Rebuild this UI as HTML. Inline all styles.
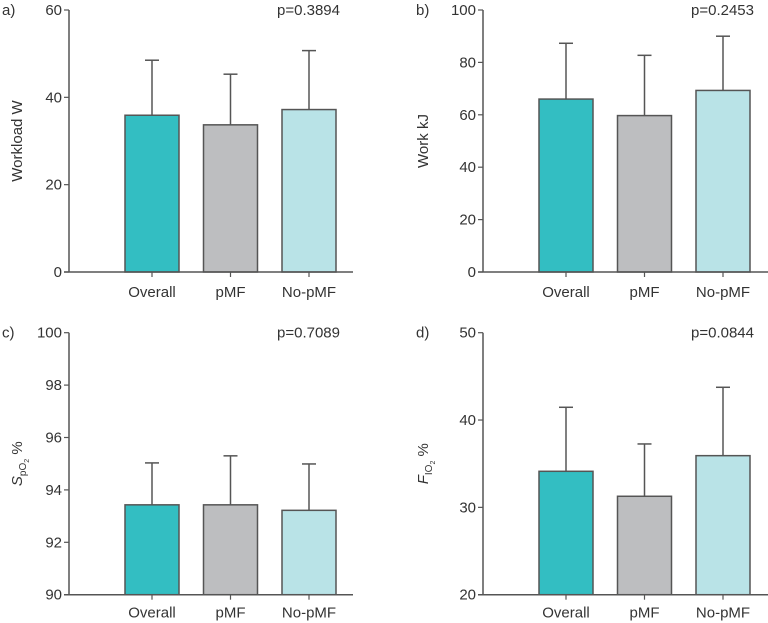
<!DOCTYPE html>
<html><head><meta charset="utf-8"><style>
html,body{margin:0;padding:0;background:#fff;}
svg{display:block;font-family:"Liberation Sans",sans-serif;}
</style></head><body>
<svg id="chart" width="768" height="623"></svg>
<script>
const categories = ["Overall","pMF","No-pMF"];
const workloadMeans = [35.9, 33.7, 37.2];
const workloadErr = [48.5, 45.3, 50.7];
const workMeans = [66.0, 59.7, 69.3];
const workErr = [87.3, 82.7, 90.0];
const spo2Means = [93.43, 93.43, 93.22];
const spo2Err = [95.03, 95.3, 94.99];
const fio2Means = [34.13, 31.27, 35.92];
const fio2Err = [41.46, 37.26, 43.75];
const workloadTicks = [0,20,40,60];
const workTicks = [0,20,40,60,80,100];
const spo2Ticks = [90,92,94,96,98,100];
const fio2Ticks = [20,30,40,50];
const pValues = ["p=0.3894","p=0.2453","p=0.7089","p=0.0844"];
const colors = ["#33bec2","#bdbec0","#b9e3e7"];

const NS="http://www.w3.org/2000/svg";
const svg=document.getElementById('chart');
function mk(tag,attrs,parent){const e=document.createElementNS(NS,tag);for(const k in attrs)e.setAttribute(k,attrs[k]);(parent||svg).appendChild(e);return e;}

const panels=[
 {id:'a',ax:69,top:10,bot:272,ticks:workloadTicks,means:workloadMeans,errs:workloadErr,p:pValues[0],title:'Workload W',end:353,tx:17,ly:25},
 {id:'b',ax:483,top:10,bot:272,ticks:workTicks,means:workMeans,errs:workErr,p:pValues[1],title:'Work kJ',end:768,tx:423,ly:25},
 {id:'c',ax:69,top:332.7,bot:594.7,ticks:spo2Ticks,means:spo2Means,errs:spo2Err,p:pValues[2],title:'spo2',end:353,tx:17,ly:23},
 {id:'d',ax:483,top:332.7,bot:594.7,ticks:fio2Ticks,means:fio2Means,errs:fio2Err,p:pValues[3],title:'fio2',end:768,tx:423,ly:23}
];
const stroke="#555";
panels.forEach(P=>{
  const g=mk('g',{});
  
  
  const lo=P.ticks[0],hi=P.ticks[P.ticks.length-1];
  const y=v=>P.bot-(v-lo)/(hi-lo)*(P.bot-P.top);
  const x=i=>P.ax+83+i*78.5;
  categories.forEach((c,i)=>{
    const cx=x(i);
    const el=mk('line',{x1:cx,x2:cx,y1:y(P.means[i]),y2:y(P.errs[i]),stroke:stroke,'stroke-width':1.5},g);
    
    
    const cap=mk('line',{x1:cx-7,x2:cx+7,y1:y(P.errs[i]),y2:y(P.errs[i]),stroke:stroke,'stroke-width':1.5},g);
    
    
    const r=mk('rect',{x:cx-27,y:y(P.means[i]),width:54,height:P.bot-y(P.means[i]),fill:colors[i],stroke:stroke,'stroke-width':1.5},g);
    
    
    mk('line',{x1:cx,x2:cx,y1:P.bot,y2:P.bot+5,stroke:stroke,'stroke-width':1.2},g);
    const t=mk('text',{x:cx,y:P.bot+P.ly,'text-anchor':'middle','font-size':15,fill:'#333'},g);
    t.textContent=c;
    
    
  });
  const ya=mk('line',{x1:P.ax,x2:P.ax,y1:P.top,y2:P.bot,stroke:stroke,'stroke-width':1.5},g);
  
  
  const xa=mk('line',{x1:P.ax-5,x2:P.end,y1:P.bot,y2:P.bot,stroke:stroke,'stroke-width':1.5},g);
  
  
  P.ticks.forEach(v=>{
    mk('line',{x1:P.ax-5,x2:P.ax,y1:y(v),y2:y(v),stroke:stroke,'stroke-width':1.2},g);
    const t=mk('text',{x:P.ax-7,y:y(v)+5,'text-anchor':'end','font-size':15,fill:'#333'},g);
    t.textContent=v;
    
    
  });
  const pl=mk('text',{x:P.ax+208,y:P.top+5,'font-size':15,fill:'#333'},g);
  pl.textContent=P.p;
  
  
  const lab=mk('text',{x:P.ax-67,y:P.top+5,'font-size':15,fill:'#333'},g);
  lab.textContent=P.id+')';
  
  
  const cy=(P.top+P.bot)/2;
  const tt=mk('text',{x:0,y:0,'text-anchor':'middle','font-size':15,fill:'#333',transform:`translate(${P.tx+5},${cy}) rotate(-90)`},g);
  
  
  if(P.title==='spo2'){
    tt.innerHTML='<tspan font-style="italic">S</tspan><tspan font-size="10" dy="4">pO</tspan><tspan font-size="7" dy="3">2</tspan><tspan dy="-7"> %</tspan>';
  } else if(P.title==='fio2'){
    tt.innerHTML='<tspan font-style="italic">F</tspan><tspan font-size="10" dy="4">IO</tspan><tspan font-size="7" dy="3">2</tspan><tspan dy="-7"> %</tspan>';
  } else tt.textContent=P.title;
});
</script>
</body></html>
